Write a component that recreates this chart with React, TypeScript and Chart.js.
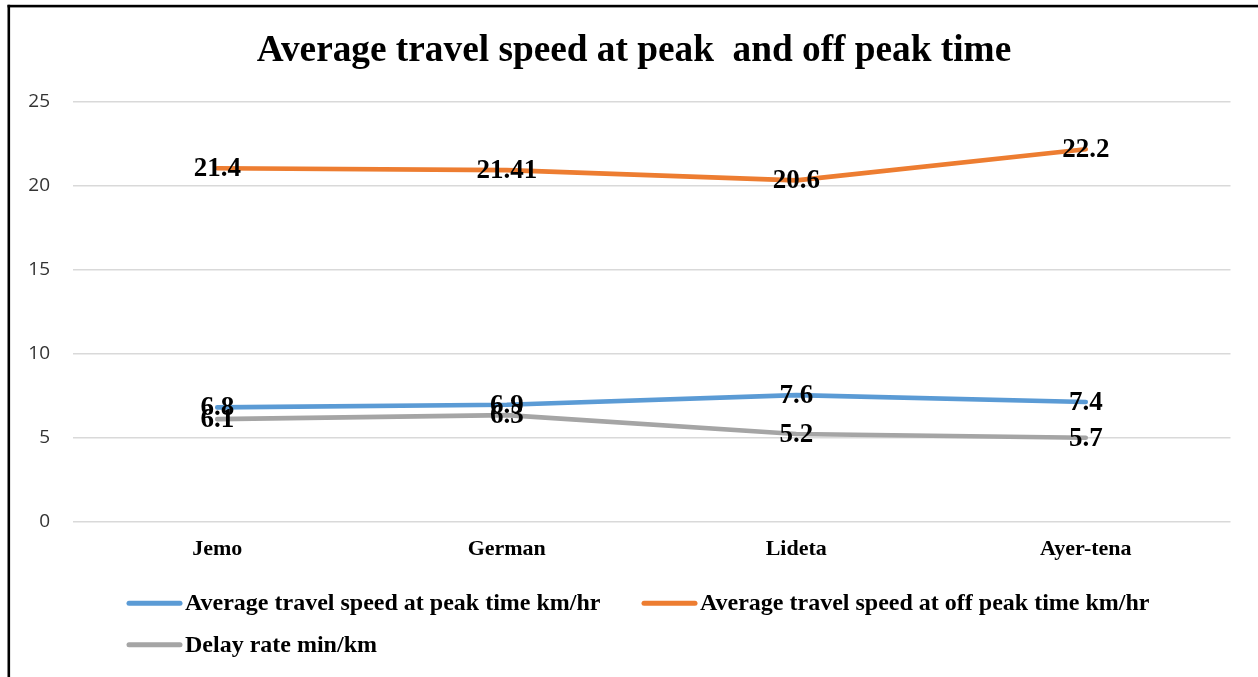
import React, { useEffect, useRef } from "react";
import { Chart, registerables } from "chart.js";

Chart.register(...registerables);

const categories = ["Jemo", "German", "Lideta", "Ayer-tena"];
const peakSpeed = [6.81, 6.97, 7.54, 7.13];
const offPeakSpeed = [21.05, 20.94, 20.33, 22.18];
const delayRate = [6.11, 6.35, 5.22, 5.0];
const peakLabels = ["6.8", "6.9", "7.6", "7.4"];
const offPeakLabels = ["21.4", "21.41", "20.6", "22.2"];
const delayLabels = ["6.1", "6.3", "5.2", "5.7"];
const seriesNames = [
  "Average travel speed at peak time km/hr",
  "Average travel speed at off peak time km/hr",
  "Delay rate min/km",
];
const yTicks = [0, 5, 10, 15, 20, 25];
const titleText = "Average travel speed at peak  and off peak time";

const SERIF = "'Liberation Serif', 'Times New Roman', serif";

const framePlugin = {
  id: "frame",
  afterLayout(chart: any) {
    if (chart.titleBlock) chart.titleBlock.left += 27.5;
  },
  beforeDraw(chart: any) {
    const ctx = chart.ctx;
    ctx.save();
    ctx.fillStyle = "#ffffff";
    ctx.fillRect(0, 0, chart.width, chart.height);
    ctx.fillStyle = "#000000";
    ctx.fillRect(7.5, 4.8, 2.6, chart.height);
    ctx.fillRect(7.5, 4.8, chart.width, 2.6);
    ctx.restore();
  },
};

const labelPlugin = {
  id: "pointLabels",
  afterDatasetsDraw(chart: any) {
    const ctx = chart.ctx;
    ctx.save();
    ctx.font = `bold 27px ${SERIF}`;
    ctx.fillStyle = "#000000";
    ctx.textAlign = "center";
    ctx.textBaseline = "middle";
    chart.data.datasets.forEach((ds: any, i: number) => {
      const meta = chart.getDatasetMeta(i);
      meta.data.forEach((el: any, j: number) => {
        ctx.fillText(ds.pointLabels[j], el.x, el.y + 1);
      });
    });
    ctx.restore();
  },
};

const legendPlugin = {
  id: "customLegend",
  afterDraw(chart: any) {
    const ctx = chart.ctx;
    const base = chart.chartArea.bottom;
    const slots = [
      { x: 127, y: base + 81.5 },
      { x: 642, y: base + 81.5 },
      { x: 127, y: base + 123 },
    ];
    ctx.save();
    chart.data.datasets.forEach((ds: any, i: number) => {
      const s = slots[i];
      ctx.strokeStyle = ds.borderColor;
      ctx.lineWidth = 5;
      ctx.lineCap = "round";
      ctx.beginPath();
      ctx.moveTo(s.x + 2, s.y);
      ctx.lineTo(s.x + 53, s.y);
      ctx.stroke();
      ctx.font = `bold 24px ${SERIF}`;
      ctx.fillStyle = "#000000";
      ctx.textAlign = "left";
      ctx.textBaseline = "middle";
      ctx.fillText(ds.label, s.x + 58, s.y + 1);
    });
    ctx.restore();
  },
};

export default function App() {
  const ref = useRef<HTMLCanvasElement | null>(null);
  useEffect(() => {
    if (!ref.current) return;
    const chart = new Chart(ref.current, {
      type: "line",
      data: {
        labels: categories,
        datasets: [
          {
            label: seriesNames[0],
            data: peakSpeed,
            pointLabels: peakLabels,
            borderColor: "#5B9BD5",
            backgroundColor: "#5B9BD5",
          } as any,
          {
            label: seriesNames[1],
            data: offPeakSpeed,
            pointLabels: offPeakLabels,
            borderColor: "#ED7D31",
            backgroundColor: "#ED7D31",
          } as any,
          {
            label: seriesNames[2],
            data: delayRate,
            pointLabels: delayLabels,
            borderColor: "#A5A5A5",
            backgroundColor: "#A5A5A5",
          } as any,
        ],
      },
      options: {
        animation: false,
        responsive: true,
        maintainAspectRatio: false,
        layout: { padding: { left: 10, right: 27.5, top: 0, bottom: 0 } },
        elements: {
          line: {
            borderWidth: 4.6,
            tension: 0,
            borderCapStyle: "round",
            borderJoinStyle: "round",
            fill: false,
          },
          point: { radius: 0, hoverRadius: 0 },
        },
        plugins: {
          legend: { display: false },
          tooltip: { enabled: false },
          title: {
            display: true,
            text: titleText,
            color: "#000000",
            font: { family: SERIF, size: 37.3, weight: "bold", lineHeight: 1.2 },
            padding: { top: 29, bottom: 28.2 },
          },
        },
        scales: {
          x: {
            type: "category",
            offset: true,
            grid: { display: false, drawTicks: false },
            border: { display: false },
            ticks: {
              color: "#000000",
              padding: 14,
              font: { family: SERIF, size: 22, weight: "bold" },
            },
            afterFit(scale: any) {
              scale.height = 155.3;
            },
          },
          y: {
            min: 0,
            max: 25,
            afterBuildTicks(scale: any) {
              scale.ticks = yTicks.map((v) => ({ value: v }));
            },
            grid: { color: "#D9D9D9", lineWidth: 1.4, drawTicks: false },
            border: { display: false },
            ticks: {
              color: "#333333",
              padding: 22.5,
              font: { family: "'Open Sans', 'Liberation Sans', sans-serif", size: 19 },
            },
            afterFit(scale: any) {
              scale.width = 62.5;
            },
          },
        },
      },
      plugins: [framePlugin, labelPlugin, legendPlugin],
    } as any);
    return () => chart.destroy();
  }, []);
  return (
    <div style={{ position: "fixed", left: 0, top: 0, width: 1258, height: 677 }}>
      <canvas ref={ref} />
    </div>
  );
}
